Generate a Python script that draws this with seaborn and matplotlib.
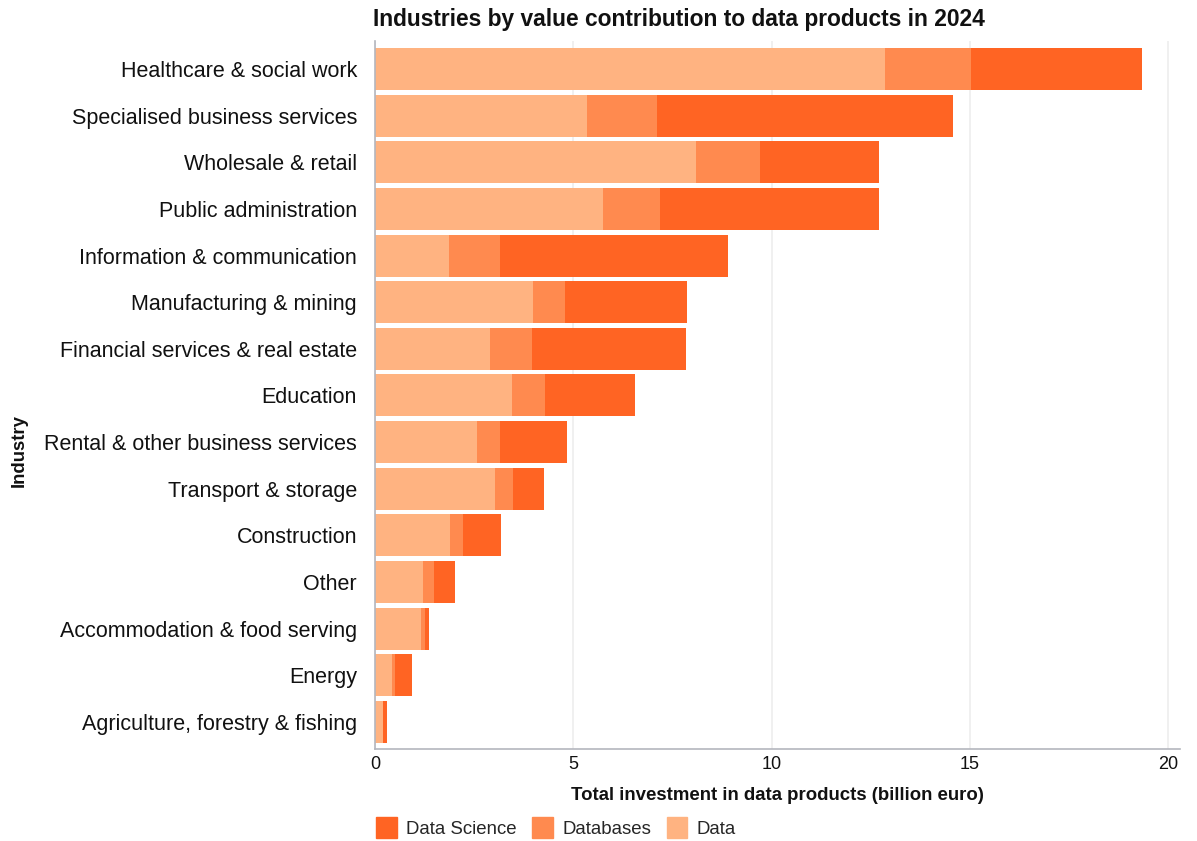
import matplotlib
matplotlib.use("Agg")
import matplotlib.pyplot as plt
import matplotlib.patches as mpatches
import seaborn as sns
import pandas as pd
import numpy as np

industries = [
    "Healthcare & social work",
    "Specialised business services",
    "Wholesale & retail",
    "Public administration",
    "Information & communication",
    "Manufacturing & mining",
    "Financial services & real estate",
    "Education",
    "Rental & other business services",
    "Transport & storage",
    "Construction",
    "Other",
    "Accommodation & food serving",
    "Energy",
    "Agriculture, forestry & fishing",
]
data_vals = [12.85, 5.34, 8.09, 5.74, 1.86, 3.98, 2.90, 3.45, 2.57, 3.02, 1.89, 1.21, 1.16, 0.43, 0.20]
databases_vals = [2.19, 1.76, 1.61, 1.44, 1.29, 0.81, 1.05, 0.83, 0.58, 0.46, 0.33, 0.28, 0.10, 0.07, 0.01]
data_science_vals = [4.31, 7.48, 3.02, 5.52, 5.74, 3.07, 3.88, 2.27, 1.69, 0.78, 0.95, 0.53, 0.10, 0.43, 0.09]

series_names = ["Data Science", "Databases", "Data"]
colors = {"Data Science": "#FF6423", "Databases": "#FF8A4F", "Data": "#FFB381"}

df = pd.DataFrame({
    "Industry": industries,
    "Data": data_vals,
    "Databases": databases_vals,
    "Data Science": data_science_vals,
})
df["cum_data"] = df["Data"]
df["cum_db"] = df["Data"] + df["Databases"]
df["cum_ds"] = df["cum_db"] + df["Data Science"]

sns.set_theme(style="white")
plt.rcParams["font.family"] = ["Liberation Sans", "DejaVu Sans"]

fig = plt.figure(figsize=(11.97, 8.41), dpi=100)
ax = fig.add_axes([0.3133, 0.1094, 0.6725, 0.8419])

ax.set_axisbelow(True)
ax.xaxis.grid(True, color="#eeeeee", linewidth=1.2)
ax.yaxis.grid(False)

for col, name in [("cum_ds", "Data Science"), ("cum_db", "Databases"), ("cum_data", "Data")]:
    sns.barplot(data=df, x=col, y="Industry", order=industries, color=colors[name],
                saturation=1, width=0.9, ax=ax, linewidth=0, edgecolor="none")

ax.set_xlim(0, 20.3)
ax.set_ylim(14.58, -0.6)
ax.set_xticks([0, 5, 10, 15, 20])
ax.set_xticklabels(["0", "5", "10", "15", "20"])

for s in ["top", "right"]:
    ax.spines[s].set_visible(False)
ax.spines["left"].set_color("#b4b6be")
ax.spines["bottom"].set_color("#b4b6be")
ax.spines["left"].set_linewidth(1.2)
ax.spines["bottom"].set_linewidth(1.2)

ax.tick_params(axis="y", length=0, pad=13, labelsize=15.5, labelcolor="#111111")
ax.tick_params(axis="x", length=0, pad=5, labelsize=13, labelcolor="#111111")

ax.set_xlabel("Total investment in data products (billion euro)", fontsize=13.4,
              fontweight="bold", color="#111111", labelpad=10)
ax.set_ylabel("Industry", fontsize=13.3, fontweight="bold", color="#111111")
ax.yaxis.set_label_coords(-0.432, 0.421)

fig.text(0.3116, 0.977, "Industries by value contribution to data products in 2024",
         fontsize=16.4, fontweight="bold", color="#111111", ha="left", va="center")

handles = [mpatches.Patch(color=colors[n], label=n) for n in series_names]
fig.legend(handles=handles, loc="center left", bbox_to_anchor=(0.308, 0.016), ncol=3,
           frameon=False, fontsize=13.4, handlelength=1.1, handleheight=1.4,
           handletextpad=0.5, columnspacing=0.85, borderaxespad=0)

fig.savefig("out.png", dpi=100)
